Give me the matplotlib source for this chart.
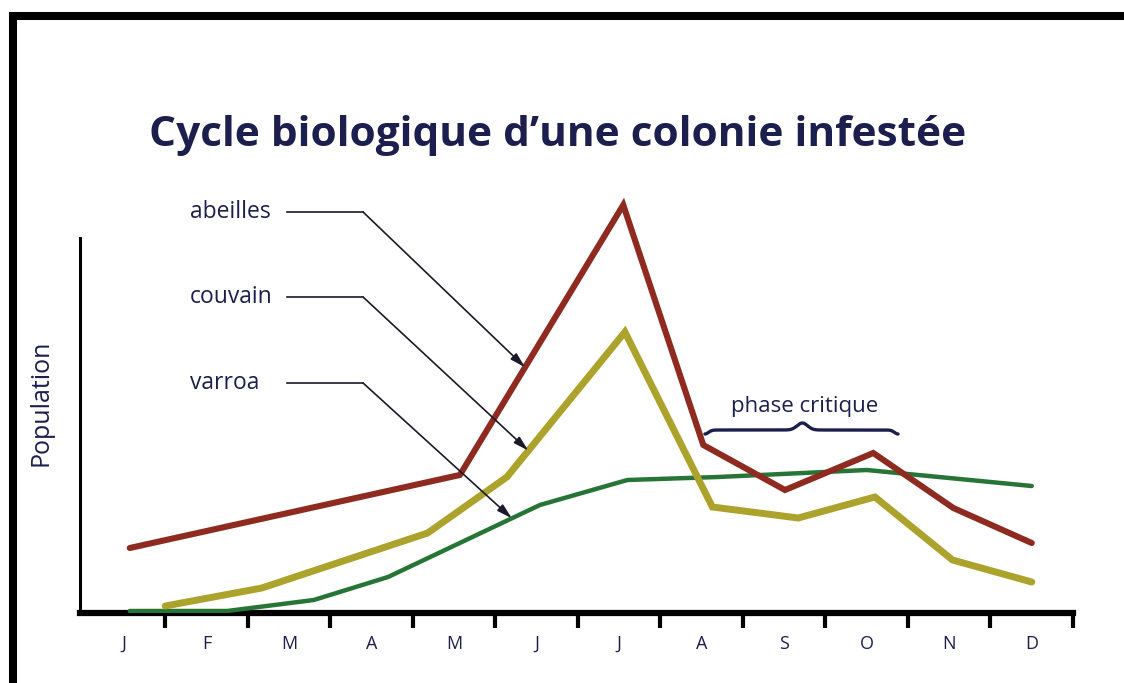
import numpy as np
import matplotlib.pyplot as plt
from matplotlib.patches import Rectangle

# Cycle of an infested colony: bees, brood and varroa over the year

months = ['J', 'F', 'M', 'A', 'M', 'J', 'J', 'A', 'S', 'O', 'N', 'D']

# month index (0 = janvier) and relative population
abeilles_x = [0.07, 4.07, 6.05, 7.02, 8.01, 9.08, 10.05, 11.0]
abeilles_y = [65, 138, 408, 168, 123, 160, 105, 70]

couvain_x = [0.5, 1.67, 3.68, 4.64, 6.07, 7.13, 8.17, 9.1, 10.04, 11.0]
couvain_y = [7, 25, 80, 136, 281, 106, 95, 116, 53, 31]

varroa_x = [0.07, 1.25, 2.3, 3.2, 5.04, 6.1, 7.2, 9.0, 11.0]
varroa_y = [2, 2, 13, 36, 108, 133, 136, 143, 127]

navy  = '#1c1f4e'
red   = '#8e2a1f'
olive = '#aba32c'
green = '#277536'

fig = plt.figure(figsize=(11.24, 6.83), dpi=100)
plt.rcParams['font.family'] = ['Open Sans', 'DejaVu Sans']

ax = fig.add_axes([80/1124, 70/683, 993/1124, 420/683])
ax.set_xlim(-0.533, 11.5)
ax.set_ylim(0, 420)

ax.plot(varroa_x, varroa_y, color=green, lw=3.2, solid_capstyle='round', solid_joinstyle='miter', zorder=3)
ax.plot(couvain_x, couvain_y, color=olive, lw=5.0, solid_capstyle='round', solid_joinstyle='miter', zorder=4)
ax.plot(abeilles_x, abeilles_y, color=red, lw=4.4, solid_capstyle='round', solid_joinstyle='miter', zorder=5)

# axes: short thin y axis, heavy x axis with ticks between months
for s in ['top', 'right']:
    ax.spines[s].set_visible(False)
ax.spines['left'].set_bounds(0, 375)
ax.spines['left'].set_linewidth(2.2)
ax.spines['bottom'].set_linewidth(4.5)
ax.spines['bottom'].set_capstyle('projecting')
ax.set_yticks([])

ax.set_xticks(np.arange(12) + 0.5)
ax.set_xticklabels([])
ax.tick_params(axis='x', which='major', direction='out', length=11, width=3, color='black')
ax.set_xticks(np.arange(12), minor=True)
ax.set_xticklabels(months, minor=True, fontsize=13, color=navy)
ax.tick_params(axis='x', which='minor', length=0, pad=16)

ax.set_ylabel('Population', fontsize=18, color=navy, labelpad=19)

# labels with leader lines pointing at each curve
labels = [('abeilles', 401, abeilles_x, abeilles_y, 4.86),
          ('couvain', 316, couvain_x, couvain_y, 4.90),
          ('varroa', 230, varroa_x, varroa_y, 4.70)]
for name, ly, sx, sy, tx in labels:
    ax.text(0.8, ly, name, fontsize=16.5, color=navy, va='center', ha='left')
    ax.plot([1.976, 2.897], [ly, ly], color='#1a1a2a', lw=1.2, zorder=6)
    ty = np.interp(tx, sx, sy)
    ax.annotate('', xy=(tx, ty), xytext=(2.897, ly),
                arrowprops=dict(arrowstyle='-|>,head_length=0.9,head_width=0.25',
                                color='#1a1a2a', lw=1.2, shrinkA=0, shrinkB=0),
                zorder=6)

# "phase critique" brace
bx = np.linspace(7.04, 9.38, 200)
by = (183 - 4 * np.exp(-((bx - 7.04) / 0.06) ** 2) - 4 * np.exp(-((bx - 9.38) / 0.06) ** 2)
      + 7 * np.exp(-((bx - 8.22) / 0.09) ** 2))
ax.plot(bx, by, color=navy, lw=2.4, solid_capstyle='round')
ax.text(8.25, 206, 'phase critique', fontsize=16, color=navy, ha='center', va='center')

fig.text(558/1124, 1 - 135/683, 'Cycle biologique d\u2019une colonie infestée',
         fontsize=30.5, fontweight='bold', color=navy, ha='center', va='center')

# heavy frame along the top and left edges
fig.add_artist(Rectangle((12.5/1124, -0.5), 1.5, 1.5 - 15.5/683,
                         transform=fig.transFigure, fill=False, lw=5.8, ec='black'))

fig.savefig('out.png', dpi=100)
